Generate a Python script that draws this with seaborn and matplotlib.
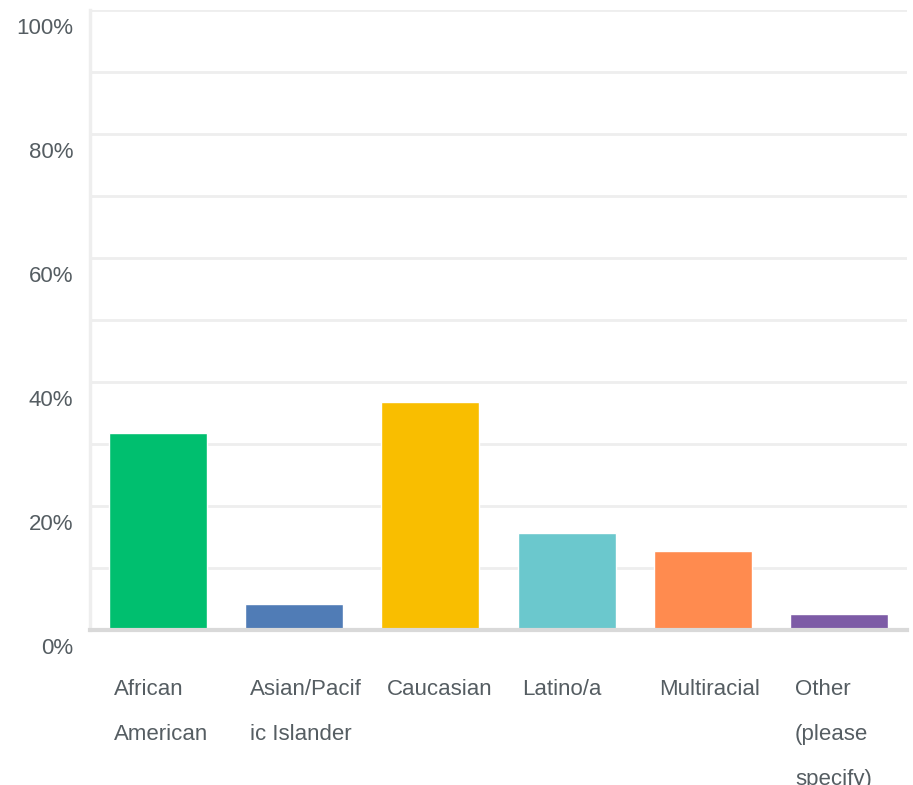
import matplotlib
matplotlib.use("Agg")
import matplotlib.pyplot as plt
import matplotlib.transforms as mtransforms
import seaborn as sns
import pandas as pd

# 数据
categories = ["African\nAmerican", "Asian/Pacif\nic Islander", "Caucasian",
              "Latino/a", "Multiracial", "Other\n(please\nspecify)"]
values = [31.8, 4.2, 36.8, 15.6, 12.7, 2.6]
colors = ["#00BF6F", "#507CB6", "#F9BE00", "#6BC8CD", "#FF8B4F", "#7D5BA6"]
yticks = [0, 20, 40, 60, 80, 100]
ytick_labels = ["0%", "20%", "40%", "60%", "80%", "100%"]

df = pd.DataFrame({"cat": categories, "val": values})

sns.set_style("white")
plt.rcParams["font.family"] = ["Liberation Sans", "DejaVu Sans"]

fig = plt.figure(figsize=(9.13, 7.85), dpi=100)
ax = fig.add_axes([90 / 913, 1 - 630 / 785, 817 / 913, 620 / 785])

# 网格线（每 10%）
for g in range(10, 101, 10):
    ax.axhline(g, color="#EEEEEE", lw=2, zorder=0)

sns.barplot(data=df, x="cat", y="val", hue="cat", palette=colors,
            width=0.72, saturation=1, legend=False, ax=ax, zorder=2)

ax.set_xlim(-0.5, 5.5)
ax.set_ylim(0, 100)
ax.set_xlabel("")
ax.set_ylabel("")

for s in ["top", "right"]:
    ax.spines[s].set_visible(False)
ax.spines["left"].set_color("#EEEEEE")
ax.spines["left"].set_linewidth(2.5)
ax.spines["bottom"].set_color("#D9D9D9")
ax.spines["bottom"].set_linewidth(3)
ax.spines["bottom"].set_zorder(3)

txt_color = "#555D62"
fs = 16
ax.set_yticks(yticks)
ax.set_yticklabels(ytick_labels, fontsize=fs, color=txt_color)
ax.tick_params(axis="y", length=0, pad=12)
ax.tick_params(axis="x", length=0, pad=35)
ax.set_xticks(range(len(categories)))
ax.set_xticklabels(categories, fontsize=fs, color=txt_color, ha="left",
                   va="top", linespacing=2.5)

# y 标签下移，x 标签左对齐到柱子左边
dy = mtransforms.ScaledTranslation(0, -16 / 100, fig.dpi_scale_trans)
for lab in ax.get_yticklabels():
    lab.set_transform(lab.get_transform() + dy)
dx = mtransforms.ScaledTranslation(-44 / 100, 0, fig.dpi_scale_trans)
for lab in ax.get_xticklabels():
    lab.set_transform(lab.get_transform() + dx)

plt.savefig("out.png", dpi=100)
